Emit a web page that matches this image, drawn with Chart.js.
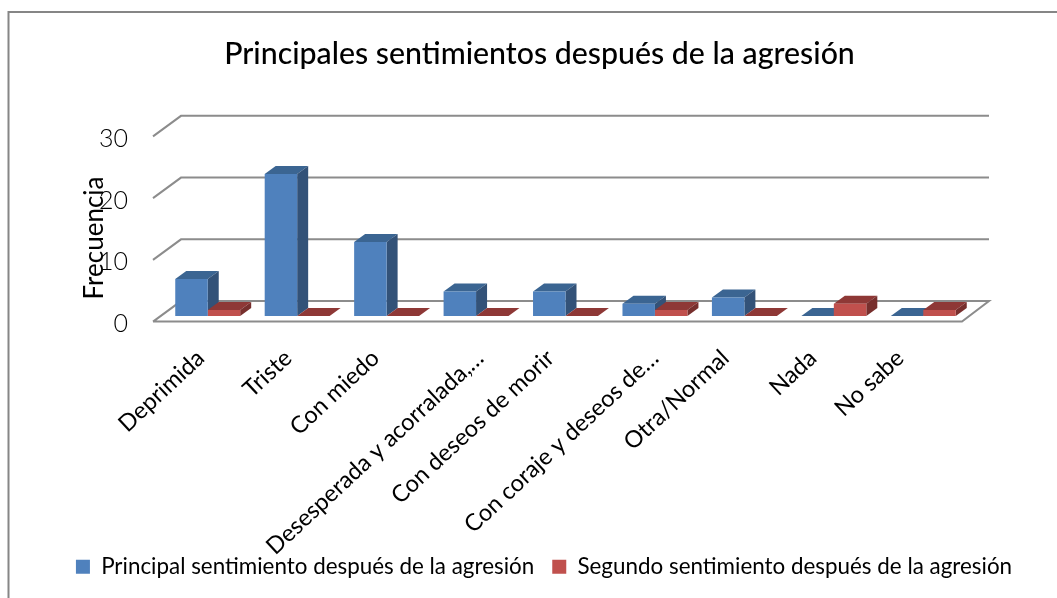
<!DOCTYPE html>
<html>
<head>
<meta charset="utf-8">
<title>Principales sentimientos</title>
<script src="https://cdn.jsdelivr.net/npm/chart.js@4"></script>
<style>
  html, body { margin: 0; padding: 0; background: #fff; }
  canvas { display: block; }
</style>
</head>
<body>
<canvas id="sentimientosChart" width="1057" height="598"></canvas>
<script>
const categories = ['Deprimida', 'Triste', 'Con miedo', 'Desesperada y acorralada,…', 'Con deseos de morir', 'Con coraje y deseos de…', 'Otra/Normal', 'Nada', 'No sabe'];
const principal = [6, 23, 12, 4, 4, 2, 3, 0, 0];
const segundo = [1, 0, 0, 0, 0, 1, 0, 2, 1];
const yTicks = [0, 10, 20, 30];

const fontName = 'Lato, sans-serif';
const GRID = '#8c8c8c';

// fake 3D look of the old Excel chart: depth faces, walls, floor
const depthX = 11, depthY = 8;
const faces = [
  { top: '#3b6592', side: '#335278' },
  { top: '#8e3836', side: '#772f2d' }
];

function poly(ctx, pts, fill) {
  ctx.beginPath();
  pts.forEach((p, i) => i ? ctx.lineTo(p[0], p[1]) : ctx.moveTo(p[0], p[1]));
  ctx.closePath();
  ctx.fillStyle = fill;
  ctx.fill();
}

const fake3d = {
  id: 'fake3d',
  afterLayout(chart) {
    // title and legend are not centered on the canvas in the reference
    chart.titleBlock.left += 11; chart.titleBlock.right += 11;
    chart.legend.left += 15.5; chart.legend.right += 15.5;
    // long rotated labels run below the axis box, don't clip them
    chart.scales.x.bottom = chart.height;
  },
  afterDatasetsUpdate(chart) {
    // labels are spaced a little tighter than the bars, cut ones hang further right
    // (has to happen after the bars are sized, they read the same tick pixels)
    const x = chart.scales.x;
    const tickPixel = x.getPixelForTick.bind(x);
    x.getPixelForTick = i => tickPixel(i) - 2 * i + (categories[i].endsWith('…') ? 17 : 0);
  },
  beforeDraw(chart) {
    // only the top and left edges of the frame are inside the picture
    const ctx = chart.ctx;
    ctx.save();
    ctx.strokeStyle = '#868686';
    ctx.lineWidth = 2;
    ctx.beginPath();
    ctx.moveTo(8.5, 598);
    ctx.lineTo(8.5, 12);
    ctx.lineTo(1057, 12);
    ctx.stroke();
    ctx.restore();
  },
  beforeDatasetsDraw(chart) {
    const ctx = chart.ctx, y = chart.scales.y, area = chart.chartArea;
    ctx.save();
    ctx.strokeStyle = GRID;
    ctx.lineWidth = 2;
    yTicks.forEach(v => {
      const py = y.getPixelForValue(v);
      ctx.beginPath();
      ctx.moveTo(area.left - 10, py + 5.5);
      ctx.lineTo(area.left + 18, py - 15);
      ctx.lineTo(area.right + 21, py - 15);
      if (v === 0) {
        ctx.lineTo(area.right - 6, py + 5.5);
        ctx.lineTo(area.left - 10, py + 5.5);
      }
      ctx.stroke();
    });
    chart.data.datasets.forEach((ds, i) => {
      chart.getDatasetMeta(i).data.forEach(bar => {
        const l = bar.x - bar.width / 2, r = bar.x + bar.width / 2;
        poly(ctx, [[l, bar.y], [r, bar.y], [r + depthX, bar.y - depthY], [l + depthX, bar.y - depthY]], faces[i].top);
        poly(ctx, [[r, bar.y], [r + depthX, bar.y - depthY], [r + depthX, bar.base - depthY], [r, bar.base]], faces[i].side);
      });
    });
    ctx.restore();
  },
  afterDraw(chart) {
    // y labels sit on the front edge of the side wall, so native positions don't work
    const ctx = chart.ctx, y = chart.scales.y;
    ctx.save();
    ctx.fillStyle = '#000';
    ctx.font = '300 25px ' + fontName;
    ctx.textAlign = 'right';
    ctx.textBaseline = 'middle';
    yTicks.forEach(v => ctx.fillText(String(v), 128, y.getPixelForValue(v) + 8));
    ctx.translate(95, 238);
    ctx.rotate(-Math.PI / 2);
    ctx.textAlign = 'center';
    ctx.font = '26px ' + fontName;
    ctx.fillText(y.options.title.text, 0, 0);
    ctx.restore();
  }
};

new Chart(document.getElementById('sentimientosChart'), {
  type: 'bar',
  data: {
    labels: categories,
    datasets: [
      { label: 'Principal sentimiento después de la agresión', data: principal, backgroundColor: '#4f81bd' },
      { label: 'Segundo sentimiento después de la agresión', data: segundo, backgroundColor: '#c0504d' }
    ]
  },
  plugins: [fake3d],
  options: {
    responsive: false,
    animation: false,
    layout: { padding: { left: 0, right: 0, top: 0, bottom: 10 } },
    datasets: { bar: { categoryPercentage: 0.726, barPercentage: 1 } },
    plugins: {
      title: {
        display: true,
        text: 'Principales sentimientos después de la agresión',
        color: '#000',
        font: { family: fontName, size: 30.3, weight: 500 },
        padding: { top: 36, bottom: 58.5 }
      },
      legend: {
        position: 'bottom',
        labels: { color: '#000', boxWidth: 14, boxHeight: 14, padding: 18, font: { family: fontName, size: 22.4 } }
      },
      tooltip: { enabled: false }
    },
    scales: {
      x: {
        grid: { display: false },
        border: { display: false },
        afterFit(scale) { scale.height = 221.5; },
        ticks: { autoSkip: false, minRotation: 43, maxRotation: 43, padding: 20, labelOffset: -7, color: '#000', font: { family: fontName, size: 23.5 } }
      },
      y: {
        min: 0,
        max: 30,
        grid: { display: false },
        border: { display: false },
        afterFit(scale) { scale.width = 163; },
        title: { display: false, text: 'Frecuencia' },
        ticks: { display: false, stepSize: 10 }
      },
      // empty axis, only keeps the plot away from the right edge while the legend stays full width
      rightGap: {
        position: 'right',
        grid: { display: false },
        border: { display: false },
        afterFit(scale) { scale.width = 89; },
        ticks: { display: false }
      }
    }
  }
});
</script>
</body>
</html>
